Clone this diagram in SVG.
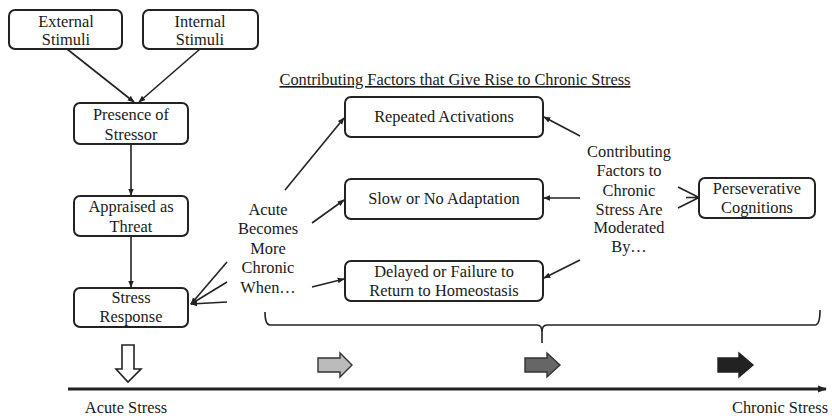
<svg xmlns="http://www.w3.org/2000/svg" width="832" height="418" viewBox="0 0 832 418">
<style>
.box{fill:#fff;stroke:#222;stroke-width:2}
text{font-family:'Liberation Serif','DejaVu Serif',serif;font-size:16.4px;fill:#1a1a1a;text-anchor:middle}
.c{stroke:#222;stroke-width:1.6;fill:none}
</style>
<defs>
<marker id="ah" viewBox="0 0 10 10" refX="9" refY="5" markerWidth="7" markerHeight="7" orient="auto" markerUnits="userSpaceOnUse">
<path d="M0,1 L10,5 L0,9 z" fill="#222"/>
</marker>
<marker id="big" viewBox="0 0 10 10" refX="9" refY="5" markerWidth="9" markerHeight="9" orient="auto" markerUnits="userSpaceOnUse">
<path d="M0,1 L10,5 L0,9 z" fill="#222"/>
</marker>
</defs>
<rect width="832" height="418" fill="#fff"/>

<g id="connectors">
<line class="c" x1="67" y1="49" x2="134" y2="102" marker-end="url(#ah)"/>
<line class="c" x1="200" y1="49" x2="139" y2="102" marker-end="url(#ah)"/>
<line class="c" x1="131" y1="144" x2="131" y2="195" marker-end="url(#ah)"/>
<line class="c" x1="131" y1="236" x2="131" y2="287" marker-end="url(#ah)"/>
<line class="c" x1="227" y1="262" x2="191" y2="304" marker-end="url(#ah)"/>
<line class="c" x1="227" y1="282" x2="191" y2="304" marker-end="url(#ah)"/>
<line class="c" x1="227" y1="302" x2="191" y2="304" marker-end="url(#ah)"/>
<line class="c" x1="285" y1="190" x2="344" y2="118" marker-end="url(#ah)"/>
<line class="c" x1="312" y1="223" x2="344" y2="200" marker-end="url(#ah)"/>
<line class="c" x1="312" y1="287" x2="344" y2="279" marker-end="url(#ah)"/>
<line class="c" x1="580" y1="136" x2="544" y2="117" marker-end="url(#ah)"/>
<line class="c" x1="580" y1="198" x2="544" y2="198" marker-end="url(#ah)"/>
<line class="c" x1="580" y1="260" x2="544" y2="278" marker-end="url(#ah)"/>
<path class="c" d="M678,187 L699,197.5 L678,208 M686,197.5 L699,197.5"/>
<path class="c" d="M265,312 Q265,325 270,325 L537,325 Q542,325 542,332 L542,343 M542,332 Q542,325 547,325 L815,325 Q820,325 820,310"/>
<line x1="68" y1="389" x2="826" y2="389" stroke="#222" stroke-width="3" marker-end="url(#big)"/>
</g>

<g id="external">
<rect class="box" x="9" y="10" width="113" height="39" rx="6"/>
<text x="66" y="27">External</text>
<text x="66" y="45">Stimuli</text>
</g>
<g id="internal">
<rect class="box" x="143" y="10" width="115" height="39" rx="6"/>
<text x="200" y="27">Internal</text>
<text x="200" y="45">Stimuli</text>
</g>
<g id="presence">
<rect class="box" x="74" y="103" width="114" height="41" rx="6"/>
<text x="131" y="120">Presence of</text>
<text x="131" y="140">Stressor</text>
</g>
<g id="appraised">
<rect class="box" x="74" y="196" width="114" height="40" rx="6"/>
<text x="131" y="212">Appraised as</text>
<text x="131" y="232">Threat</text>
</g>
<g id="response">
<rect class="box" x="74" y="288" width="114" height="39" rx="6"/>
<text x="131" y="303">Stress</text>
<text x="131" y="322">Response</text>
</g>

<g id="acute-label">
<text x="268" y="215">Acute</text>
<text x="268" y="234">Becomes</text>
<text x="268" y="254">More</text>
<text x="268" y="273">Chronic</text>
<text x="268" y="293">When…</text>
</g>

<g id="title">
<text x="455" y="85" style="text-decoration:underline">Contributing Factors that Give Rise to Chronic Stress</text>
</g>

<g id="repeated">
<rect class="box" x="345" y="97" width="198" height="40" rx="6"/>
<text x="444" y="122">Repeated Activations</text>
</g>
<g id="slow">
<rect class="box" x="345" y="179" width="198" height="40" rx="6"/>
<text x="444" y="204">Slow or No Adaptation</text>
</g>
<g id="delayed">
<rect class="box" x="345" y="261" width="198" height="40" rx="6"/>
<text x="444" y="277">Delayed or Failure to</text>
<text x="444" y="296">Return to Homeostasis</text>
</g>

<g id="moderated-label">
<text x="629" y="157">Contributing</text>
<text x="629" y="176">Factors to</text>
<text x="629" y="196">Chronic</text>
<text x="629" y="215">Stress Are</text>
<text x="629" y="233">Moderated</text>
<text x="629" y="252">By…</text>
</g>

<g id="perseverative">
<rect class="box" x="699" y="178" width="116" height="40" rx="6"/>
<text x="757" y="194">Perseverative</text>
<text x="757" y="213">Cognitions</text>
</g>

<g id="progress-arrows">
<path d="M122,345 L134,345 L134,369 L141,369 L128,382 L116,369 L122,369 Z" fill="#fff" stroke="#222" stroke-width="1.6"/>
<path d="M318,358 L340,358 L340,353 L352,365 L340,377 L340,372 L318,372 Z" fill="#bbb" stroke="#333" stroke-width="1.4"/>
<path d="M525,358 L547,358 L547,353 L560,365 L547,377 L547,372 L525,372 Z" fill="#666" stroke="#333" stroke-width="1.4"/>
<path d="M718,358 L739,358 L739,353 L753,365 L739,377 L739,372 L718,372 Z" fill="#222" stroke="#222" stroke-width="1.4"/>
</g>

<g id="axis-labels">
<text x="126" y="413">Acute Stress</text>
<text x="780" y="413">Chronic Stress</text>
</g>
</svg>
